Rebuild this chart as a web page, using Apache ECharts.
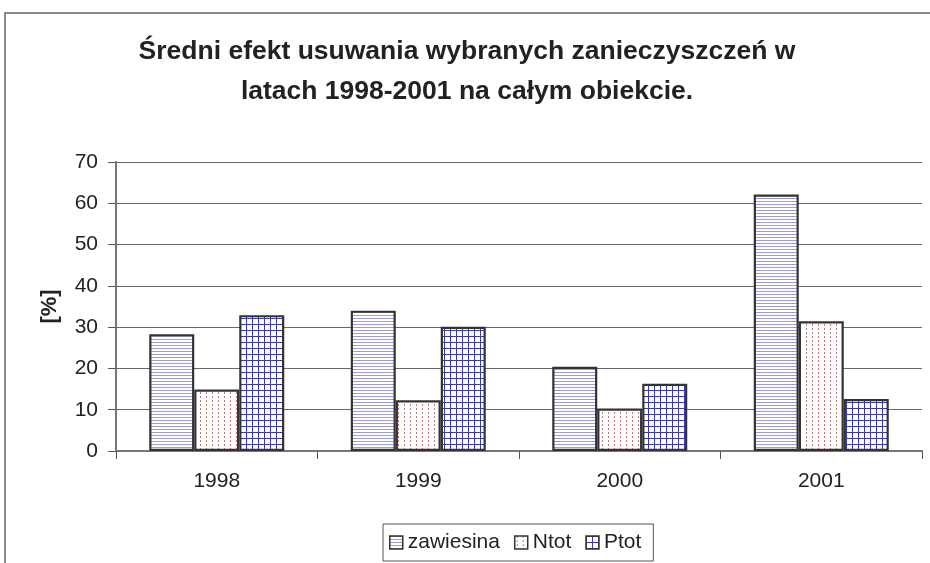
<!DOCTYPE html>
<html><head><meta charset="utf-8">
<script src="https://cdn.jsdelivr.net/npm/echarts@6/dist/echarts.min.js"></script>
<style>html,body{margin:0;padding:0;background:#fff}#c{width:930px;height:563px}</style>
</head><body><div id="c"></div>
<script>
const years = ['1998', '1999', '2000', '2001'];
const zawiesina = [28.3, 34.0, 20.4, 62.1];
const ntot = [14.9, 12.3, 10.3, 31.4];
const ptot = [32.9, 30.1, 16.3, 12.6];
const seriesNames = ['zawiesina', 'Ntot', 'Ptot'];
const titleText = 'Średni efekt usuwania wybranych zanieczyszczeń w\nlatach 1998-2001 na całym obiekcie.';

function mk(w, h, draw) {
  const c = document.createElement('canvas');
  c.width = w; c.height = h;
  const g = c.getContext('2d');
  g.fillStyle = '#fff'; g.fillRect(0, 0, w, h);
  draw(g);
  return c;
}
const patH = mk(4, 3, g => { g.fillStyle = '#9c9cd6'; g.fillRect(0, 0, 4, 1); });
const patDot = mk(6, 4, g => { g.fillStyle = '#c07c7c'; g.fillRect(2, 0, 1, 2); });
const patGrid = mk(6, 6, g => { g.fillStyle = '#3a3aa8'; g.fillRect(0, 0, 6, 1); g.fillRect(0, 0, 1, 6); });
const pats = [patH, patDot, patGrid];

const chart = echarts.init(document.getElementById('c'), null, {renderer: 'canvas'});
const font = 'Liberation Sans, Arial, sans-serif';
const data = [zawiesina, ntot, ptot];
chart.setOption({
  animation: false,
  textStyle: {fontFamily: font},
  title: {
    text: titleText, left: 462, top: 27, textAlign: 'center',
    textStyle: {fontSize: 26.5, fontWeight: 'bold', color: '#222', lineHeight: 40, fontFamily: font}
  },
  graphic: [{type: 'rect', shape: {x: 5, y: 13, width: 1000, height: 1000},
    style: {fill: 'none', stroke: '#666', lineWidth: 1.5}, silent: true}],
  legend: {
    left: 383, top: 524,
    padding: [8, 12, 8, 6],
    borderColor: '#555', borderWidth: 1,
    itemWidth: 13, itemHeight: 13, itemGap: 14,
    icon: 'rect',
    textStyle: {fontSize: 21, color: '#222', fontFamily: font},
    itemStyle: {borderColor: '#333', borderWidth: 1.5},
    data: seriesNames
  },
  grid: {left: 116, right: 8, top: 162, bottom: 112},
  xAxis: {
    type: 'category', data: years,
    axisLine: {lineStyle: {color: '#777', width: 2}},
    axisTick: {show: true, length: 8, lineStyle: {color: '#555'}},
    axisLabel: {fontSize: 21, color: '#222', margin: 20}
  },
  yAxis: {
    type: 'value', min: 0, max: 70, interval: 10,
    name: '[%]', nameLocation: 'middle', nameGap: 55,
    nameTextStyle: {fontSize: 22, fontWeight: 'bold', color: '#222'},
    axisLine: {show: true, lineStyle: {color: '#777', width: 2}},
    axisTick: {show: true, length: 8, lineStyle: {color: '#555'}},
    axisLabel: {fontSize: 21, color: '#222', margin: 18},
    splitLine: {lineStyle: {color: '#666', width: 1}}
  },
  series: seriesNames.map((n, i) => ({
    name: n, type: 'bar', data: data[i],
    barGap: '0%', barCategoryGap: '33%',
    itemStyle: {color: {image: pats[i], repeat: 'repeat'}, borderColor: '#333', borderWidth: 2.2}
  }))
});
</script></body></html>
